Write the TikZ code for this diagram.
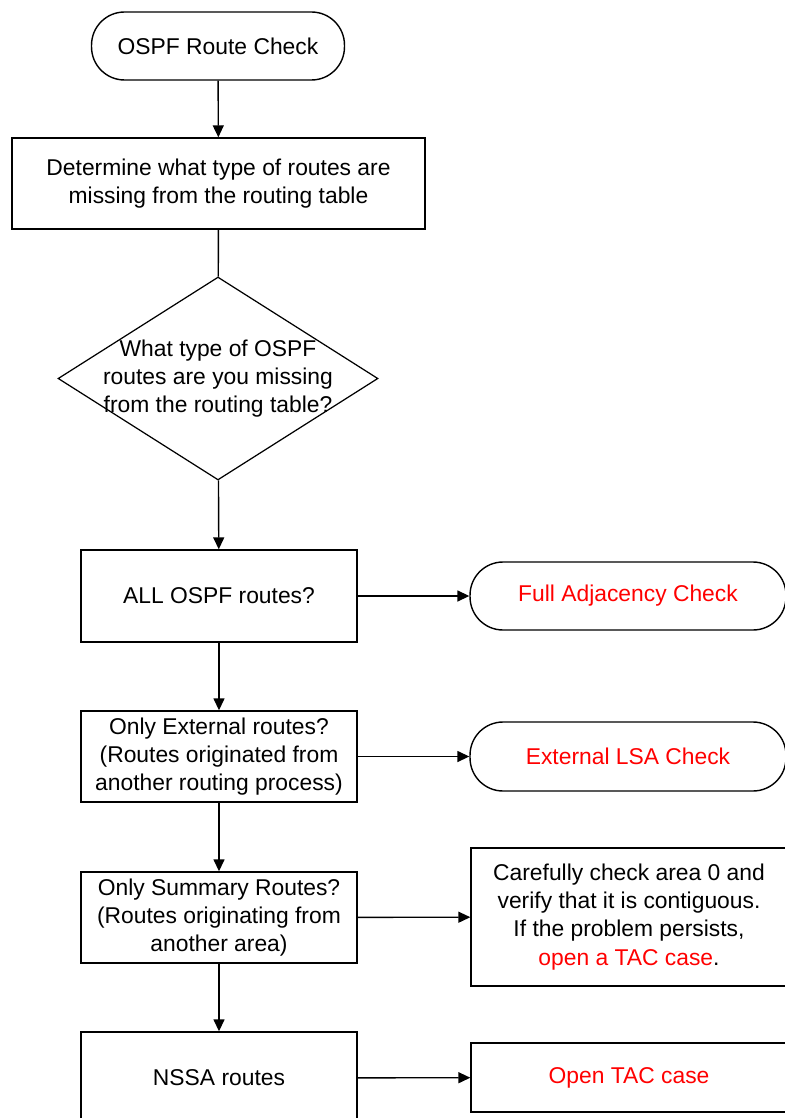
\documentclass[tikz,border=0pt]{standalone}
\usepackage{fontspec}
\setmainfont{Liberation Sans}
\usetikzlibrary{shapes.geometric,arrows.meta}
\definecolor{alertred}{RGB}{255,0,0}

\begin{document}
\begin{tikzpicture}[
    every node/.style={font=\fontsize{13}{16}\selectfont, align=center},
    box/.style={draw, line width=0.8pt, inner sep=0pt},
    terminal/.style={box, rounded corners=0.66cm},
    decision/.style={draw, line width=0.7pt, diamond, inner sep=0pt},
    flow/.style={-{Triangle[length=0.24cm,width=0.22cm]}, line width=0.8pt},
    plain/.style={line width=0.8pt}]
    \def\x{0.02}
    \def\y{-0.02}
    \useasboundingbox (0,0) rectangle (785*\x, 1118*\y);
    \clip (0,0) rectangle (785*\x, 1118*\y);
    \node (A0_0) [terminal, minimum width=5.06cm, minimum height=1.36cm] at (218*\x, 46*\y) {OSPF Route Check};
    \node (A1_0) [box, minimum width=8.26cm, minimum height=1.82cm] at (218.5*\x, 183.5*\y) {Determine what type of routes are\\missing from the routing table};
    \node (A2_0) [decision, minimum width=6.4cm, minimum height=4.06cm] at (218*\x, 378.5*\y) {};
    \node (A2_0t) at (A2_0) {What type of OSPF\\routes are you missing\\from the routing table?};
    \node (A3_0) [box, minimum width=5.52cm, minimum height=1.84cm] at (219*\x, 596*\y) {ALL OSPF routes?};
    \node (A3_1) [terminal, minimum width=6.32cm, minimum height=1.36cm, text=alertred] at (628*\x, 596*\y) {Full Adjacency Check};
    \node (A4_0) [box, minimum width=5.52cm, minimum height=1.82cm] at (219*\x, 756.5*\y) {Only External routes?\\(Routes originated from\\another routing process)};
    \node (A4_1) [terminal, minimum width=6.32cm, minimum height=1.38cm, text=alertred] at (628*\x, 756.5*\y) {External LSA Check};
    \node (A5_0) [box, minimum width=5.52cm, minimum height=1.82cm] at (219*\x, 917.5*\y) {Only Summary Routes?\\(Routes originating from\\another area)};
    \node (A5_1) [box, minimum width=6.32cm, minimum height=2.76cm] at (629*\x, 917*\y) {Carefully check area 0 and\\verify that it is contiguous.\\If the problem persists,\\\textcolor{alertred}{open a TAC case}.};
    \node (A6_0) [box, minimum width=5.52cm, minimum height=1.84cm] at (219*\x, 1078*\y) {NSSA routes};
    \node (A6_1) [box, minimum width=6.32cm, minimum height=1.38cm, text=alertred] at (629*\x, 1077.5*\y) {Open TAC case};
    \path (A0_0) edge [flow] (A1_0);
    \path (A1_0) edge [plain] (A2_0);
    \path (A2_0) edge [flow] (A3_0);
    \path (A3_0) edge [flow] (A3_1);
    \path (A3_0) edge [flow] (A4_0);
    \path (A4_0) edge [flow] (A4_1);
    \path (A4_0) edge [flow] (A5_0);
    \path (A5_0) edge [flow] (A5_1);
    \path (A5_0) edge [flow] (A6_0);
    \path (A6_0) edge [flow] (A6_1);
  \end{tikzpicture}
\end{document}
